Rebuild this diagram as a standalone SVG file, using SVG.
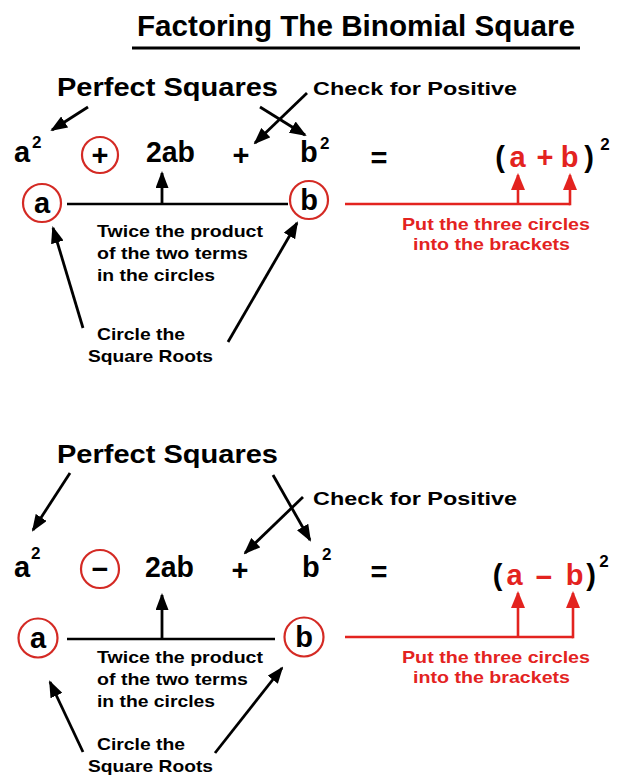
<svg xmlns="http://www.w3.org/2000/svg" width="619" height="775" viewBox="0 0 619 775">
<defs>
<style>
text{font-family:"Liberation Sans",Arial,sans-serif;font-weight:bold;fill:#000}
.t{font-size:29px}
.h{font-size:26px}
.c{font-size:19px}
.s{font-size:17px}
.m{font-size:29px}
.sup{font-size:17px}
.r{fill:#e3231f}
.ring{fill:none;stroke:#d42a24;stroke-width:2.2}
.ln{stroke:#000;stroke-width:2.6;fill:none}
.arr{stroke:#000;stroke-width:2.8;fill:none;marker-end:url(#ah)}
.rln{stroke:#e3231f;stroke-width:2.6;fill:none}
.rarr{stroke:#e3231f;stroke-width:2.6;fill:none;marker-end:url(#rah)}
</style>
<marker id="ah" markerUnits="userSpaceOnUse" markerWidth="17" markerHeight="13" refX="15" refY="6.5" orient="auto"><path d="M0,0 L17,6.5 L0,13 z" fill="#000"/></marker>
<marker id="rah" markerUnits="userSpaceOnUse" markerWidth="17" markerHeight="14" refX="15" refY="7" orient="auto"><path d="M0,0 L17,7 L0,14 z" fill="#e3231f"/></marker>
</defs>
<rect width="619" height="775" fill="#fff"/>

<g id="title">
<text class="t" x="137" y="36" textLength="438" lengthAdjust="spacingAndGlyphs">Factoring The Binomial Square</text>
<line x1="132" y1="48" x2="580" y2="48" stroke="#000" stroke-width="3"/>
</g>

<!-- Top section -->
<g id="top-perfect-squares"><text class="h" x="57" y="96" textLength="221" lengthAdjust="spacingAndGlyphs">Perfect Squares</text></g>
<g id="top-check"><text class="c" x="313" y="95" textLength="204" lengthAdjust="spacingAndGlyphs">Check for Positive</text></g>
<g id="top-a2"><text class="m" x="14" y="162">a</text><text class="sup" x="32" y="148">2</text></g>
<g id="top-sign"><circle class="ring" cx="100" cy="155" r="18"/><text class="m" x="100" y="164.5" text-anchor="middle">+</text></g>
<g id="top-2ab"><text class="m" x="146" y="162" textLength="49" lengthAdjust="spacingAndGlyphs">2ab</text></g>
<g id="top-plus"><text class="m" x="241" y="164.5" text-anchor="middle">+</text></g>
<g id="top-b2"><text class="m" x="300" y="162">b</text><text class="sup" x="320" y="149">2</text></g>
<g id="top-eq"><text class="m" x="379" y="168" text-anchor="middle">=</text></g>
<g id="top-result">
<text class="m" x="500" y="167" text-anchor="middle">(</text>
<text class="m r" x="517.5" y="167" text-anchor="middle">a</text>
<text class="m r" x="545" y="166.5" text-anchor="middle">+</text>
<text class="m r" x="569.5" y="167" text-anchor="middle">b</text>
<text class="m" x="589" y="167" text-anchor="middle">)</text>
<text class="sup" x="605" y="150" text-anchor="middle">2</text>
</g>
<g id="top-circle-a"><circle class="ring" cx="42" cy="203" r="19"/><text class="m" x="42" y="213" text-anchor="middle">a</text></g>
<g id="top-circle-b"><circle class="ring" cx="309" cy="200" r="19"/><text class="m" x="309" y="210" text-anchor="middle">b</text></g>
<g id="top-twice">
<text class="s" x="97" y="237" textLength="166" lengthAdjust="spacingAndGlyphs">Twice the product</text>
<text class="s" x="97" y="259" textLength="151" lengthAdjust="spacingAndGlyphs">of the two terms</text>
<text class="s" x="97" y="281" textLength="118" lengthAdjust="spacingAndGlyphs">in the circles</text>
</g>
<g id="top-circle-roots">
<text class="s" x="97" y="340" textLength="88" lengthAdjust="spacingAndGlyphs">Circle the</text>
<text class="s" x="88" y="362" textLength="125" lengthAdjust="spacingAndGlyphs">Square Roots</text>
</g>
<g id="top-put">
<text class="s r" x="402" y="230" textLength="188" lengthAdjust="spacingAndGlyphs">Put the three circles</text>
<text class="s r" x="413" y="250" textLength="157" lengthAdjust="spacingAndGlyphs">into the brackets</text>
</g>

<!-- Bottom section -->
<g id="bot-perfect-squares"><text class="h" x="57" y="463" textLength="221" lengthAdjust="spacingAndGlyphs">Perfect Squares</text></g>
<g id="bot-check"><text class="c" x="313" y="505" textLength="204" lengthAdjust="spacingAndGlyphs">Check for Positive</text></g>
<g id="bot-a2"><text class="m" x="14" y="577">a</text><text class="sup" x="31" y="559">2</text></g>
<g id="bot-sign"><circle class="ring" cx="100" cy="569" r="19"/><text class="m" x="100" y="578.5" text-anchor="middle">−</text></g>
<g id="bot-2ab"><text class="m" x="145" y="577" textLength="49" lengthAdjust="spacingAndGlyphs">2ab</text></g>
<g id="bot-plus"><text class="m" x="240" y="579.5" text-anchor="middle">+</text></g>
<g id="bot-b2"><text class="m" x="302" y="577">b</text><text class="sup" x="322" y="560">2</text></g>
<g id="bot-eq"><text class="m" x="379" y="582" text-anchor="middle">=</text></g>
<g id="bot-result">
<text class="m" x="497.5" y="585" text-anchor="middle">(</text>
<text class="m r" x="514.5" y="585" text-anchor="middle">a</text>
<text class="m r" x="544" y="587" text-anchor="middle">−</text>
<text class="m r" x="574.5" y="585" text-anchor="middle">b</text>
<text class="m" x="591" y="585" text-anchor="middle">)</text>
<text class="sup" x="604" y="567" text-anchor="middle">2</text>
</g>
<g id="bot-circle-a"><circle class="ring" cx="38" cy="638" r="19.5"/><text class="m" x="38" y="648" text-anchor="middle">a</text></g>
<g id="bot-circle-b"><circle class="ring" cx="304" cy="637" r="19.5"/><text class="m" x="304" y="647" text-anchor="middle">b</text></g>
<g id="bot-twice">
<text class="s" x="97" y="663" textLength="166" lengthAdjust="spacingAndGlyphs">Twice the product</text>
<text class="s" x="97" y="685" textLength="151" lengthAdjust="spacingAndGlyphs">of the two terms</text>
<text class="s" x="97" y="707" textLength="118" lengthAdjust="spacingAndGlyphs">in the circles</text>
</g>
<g id="bot-circle-roots">
<text class="s" x="97" y="750" textLength="88" lengthAdjust="spacingAndGlyphs">Circle the</text>
<text class="s" x="88" y="772" textLength="125" lengthAdjust="spacingAndGlyphs">Square Roots</text>
</g>
<g id="bot-put">
<text class="s r" x="402" y="663" textLength="188" lengthAdjust="spacingAndGlyphs">Put the three circles</text>
<text class="s r" x="413" y="683" textLength="157" lengthAdjust="spacingAndGlyphs">into the brackets</text>
</g>

<g id="connectors">
<!-- top -->
<line class="arr" x1="88" y1="107" x2="52" y2="130"/>
<line class="arr" x1="260" y1="107" x2="305" y2="135"/>
<line class="arr" x1="307" y1="93" x2="255" y2="143"/>
<line class="ln" x1="67" y1="204" x2="288" y2="204"/>
<line class="arr" x1="162" y1="204" x2="162" y2="173"/>
<line class="arr" x1="83" y1="328" x2="53" y2="228"/>
<line class="arr" x1="228" y1="342" x2="297" y2="223"/>
<polyline class="rln" points="345,204 570,204"/>
<line class="rarr" x1="518" y1="204" x2="518" y2="175"/>
<line class="rarr" x1="570" y1="205.3" x2="570" y2="175"/>
<!-- bottom -->
<line class="arr" x1="70" y1="473" x2="33" y2="530"/>
<line class="arr" x1="273" y1="475" x2="310" y2="540"/>
<line class="arr" x1="303" y1="497" x2="245" y2="553"/>
<line class="ln" x1="67" y1="639" x2="275" y2="639"/>
<line class="arr" x1="162" y1="639" x2="162" y2="595"/>
<line class="arr" x1="83" y1="752" x2="50" y2="682"/>
<line class="arr" x1="215" y1="753" x2="282" y2="668"/>
<polyline class="rln" points="345,637 573,637"/>
<line class="rarr" x1="518" y1="637" x2="518" y2="593"/>
<line class="rarr" x1="573" y1="638.3" x2="573" y2="593"/>
</g>
</svg>
